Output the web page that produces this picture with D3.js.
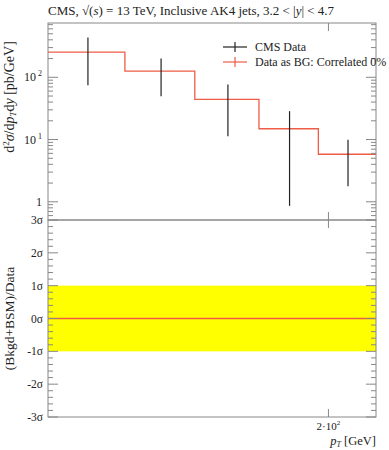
<!DOCTYPE html>
<html lang="en">
<head>
<meta charset="utf-8">
<title>CMS inclusive AK4 jets</title>
<script src="https://d3js.org/d3.v7.min.js"></script>
<style>
  body { margin: 0; background: #fff; }
  svg text { font-family: "Liberation Serif", "DejaVu Serif", serif; fill: #222; }
</style>
</head>
<body>
<div id="chart"></div>
<script>
// bin edges in pT [GeV]
var binEdges = [114, 133, 153, 174, 196, 220];
// cross section per bin (data as background, same as data central value)
var xsec = [253, 126, 44.2, 14.9, 5.8];
// data error bars
var errLow = [74.3, 49.4, 11.3, 0.86, 1.77];
var errHigh = [437, 200, 76.3, 28.6, 9.9];
var ratioTicks = [-3, -2, -1, 0, 1, 2, 3];
var ratioLabels = ["-3\u03c3", "-2\u03c3", "-1\u03c3", "0\u03c3", "1\u03c3", "2\u03c3", "3\u03c3"];

var w = 389, h = 450;
var left = 48, right = 376;
var top1 = 23, bot1 = 220, bot2 = 417;
var frameColor = "#888";
var red = "rgb(238,92,70)";

var svg = d3.select("#chart").append("svg").attr("width", w).attr("height", h);

var x = d3.scaleLog().domain([114, 220]).range([left, right]);
var y = d3.scaleLog().domain([0.51, 745]).range([bot1, top1]);
var yr = d3.scaleLinear().domain([-3, 3]).range([bot2, bot1]);

// yellow 1 sigma band
svg.append("rect")
  .attr("x", left).attr("width", right - left)
  .attr("y", yr(1)).attr("height", yr(-1) - yr(1))
  .attr("fill", "#ffff00");

// ratio zero line
svg.append("line")
  .attr("x1", left).attr("x2", right)
  .attr("y1", yr(0)).attr("y2", yr(0))
  .attr("stroke", red).attr("stroke-width", 1.3);

// step histogram
var stepPts = [];
xsec.forEach(function(v, i) {
  stepPts.push([binEdges[i], v]);
  stepPts.push([binEdges[i + 1], v]);
});
svg.append("path")
  .attr("d", d3.line().x(function(d) { return x(d[0]); }).y(function(d) { return y(d[1]); })(stepPts))
  .attr("fill", "none").attr("stroke", red).attr("stroke-width", 1.3);

// data error bars at bin centres
xsec.forEach(function(v, i) {
  var c = (binEdges[i] + binEdges[i + 1]) / 2;
  svg.append("line")
    .attr("x1", x(c)).attr("x2", x(c))
    .attr("y1", y(errHigh[i])).attr("y2", y(errLow[i]))
    .attr("stroke", "#222").attr("stroke-width", 1.2);
});

// frames
svg.append("rect").attr("x", left).attr("y", top1).attr("width", right - left).attr("height", bot1 - top1)
  .attr("fill", "none").attr("stroke", frameColor);
svg.append("rect").attr("x", left).attr("y", bot1).attr("width", right - left).attr("height", bot2 - bot1)
  .attr("fill", "none").attr("stroke", frameColor);

function tick(x1, y1, x2, y2) {
  svg.append("line").attr("x1", x1).attr("y1", y1).attr("x2", x2).attr("y2", y2)
    .attr("stroke", frameColor).attr("stroke-width", 1);
}

// top panel y ticks
[0.1, 1, 10, 100].forEach(function(dec) {
  for (var m = 1; m <= 9; m++) {
    var v = dec * m;
    if (v < 0.51 || v > 745) continue;
    var len = m === 1 ? 10 : 5;
    tick(left, y(v), left + len, y(v));
    tick(right, y(v), right - len, y(v));
  }
});
var fmtY = [[1, "1", ""], [10, "10", "1"], [100, "10", "2"]];
fmtY.forEach(function(f) {
  var t = svg.append("text").attr("x", left - 6).attr("y", y(f[0]) + 4)
    .attr("text-anchor", "end").attr("font-size", 12).text(f[1]);
  if (f[2]) t.append("tspan").attr("dy", -5).attr("font-size", 8).text(" " + f[2]);
});

// ratio ticks
for (var r = -3; r <= 3.001; r += 0.2) {
  var major = Math.abs(r - Math.round(r)) < 1e-6;
  var len = major ? 10 : 5;
  tick(left, yr(r), left + len, yr(r));
  tick(right, yr(r), right - len, yr(r));
}
ratioTicks.forEach(function(t, i) {
  svg.append("text").attr("x", left - 5).attr("y", yr(t) + 4)
    .attr("text-anchor", "end").attr("font-size", 11.5)
    .text(ratioLabels[i]);
});

// x tick at 200
[[top1, 1], [bot1, -1], [bot1, 1], [bot2, -1]].forEach(function(p) {
  tick(x(200), p[0], x(200), p[0] + p[1] * 8);
});
var xl = svg.append("text").attr("x", x(200)).attr("y", 430)
  .attr("text-anchor", "middle").attr("font-size", 11).text("2\u00b710");
xl.append("tspan").attr("dy", -5).attr("font-size", 7).text("2");

// x label
var xt = svg.append("text").attr("x", right).attr("y", 445)
  .attr("text-anchor", "end").attr("font-size", 12.5);
xt.append("tspan").attr("font-style", "italic").text("p");
xt.append("tspan").attr("font-style", "italic").attr("font-size", 8).attr("dy", 2).text("T");
xt.append("tspan").attr("dy", -2).text(" [GeV]");

// y labels
var yl = svg.append("text").attr("transform", "translate(14," + 97 + ") rotate(-90)")
  .attr("text-anchor", "middle").attr("font-size", 14);
yl.append("tspan").text("d");
yl.append("tspan").attr("font-size", 9).attr("dy", -5).text("2");
yl.append("tspan").attr("dy", 5).attr("font-style", "italic").text("\u03c3");
yl.append("tspan").text("/d");
yl.append("tspan").attr("font-style", "italic").text("p");
yl.append("tspan").attr("font-style", "italic").attr("font-size", 9).attr("dy", 2).text("T");
yl.append("tspan").attr("dy", -2).text("d");
yl.append("tspan").attr("font-style", "italic").text("y");
yl.append("tspan").text(" [pb/GeV]");

svg.append("text").attr("transform", "translate(14," + yr(0) + ") rotate(-90)")
  .attr("text-anchor", "middle").attr("font-size", 13.5).text("(Bkgd+BSM)/Data");

// title
var tt = svg.append("text").attr("x", left).attr("y", 15).attr("font-size", 13);
tt.append("tspan").text("CMS, \u221a(");
tt.append("tspan").attr("font-style", "italic").text("s");
tt.append("tspan").text(") = 13 TeV, Inclusive AK4 jets, 3.2 < |");
tt.append("tspan").attr("font-style", "italic").text("y");
tt.append("tspan").text("| < 4.7");

// legend
var legend = [["CMS Data", "#222"], ["Data as BG: Correlated 0%", red]];
legend.forEach(function(l, i) {
  var ly = 47 + i * 15;
  svg.append("line").attr("x1", 223).attr("x2", 247).attr("y1", ly).attr("y2", ly)
    .attr("stroke", l[1]).attr("stroke-width", 1.2);
  svg.append("line").attr("x1", 235).attr("x2", 235).attr("y1", ly - 5).attr("y2", ly + 5)
    .attr("stroke", l[1]).attr("stroke-width", 1.2);
  svg.append("text").attr("x", 255).attr("y", ly + 4).attr("font-size", 12).text(l[0]);
});
</script>
</body>
</html>
